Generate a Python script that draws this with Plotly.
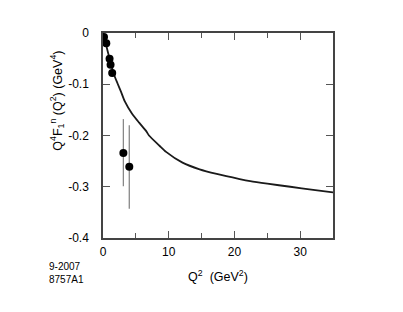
import plotly.graph_objects as go

# data points
pt_x = [0.15, 0.5, 1.0, 1.15, 1.4, 3.1, 4.0]
pt_y = [-0.008, -0.02, -0.05, -0.062, -0.078, -0.234, -0.261]
err_plus = [0.0, 0.0, 0.0, 0.0, 0.0, 0.066, 0.081]
err_minus = [0.0, 0.0, 0.0, 0.0, 0.0, 0.065, 0.082]

# theory curve
cx = [0, 0.5, 1.1, 1.7, 2.2, 2.75, 3.3, 4.4, 5.5, 6.6, 7.0, 8.6, 9.6, 12.1, 14.7, 17.3, 20.8, 22.4, 25.0, 28.5, 32.0, 35.0]
cy = [0, -0.025, -0.055, -0.082, -0.098, -0.115, -0.133, -0.157, -0.175, -0.192, -0.200, -0.220, -0.232, -0.253, -0.266, -0.275, -0.285, -0.289, -0.294, -0.300, -0.306, -0.311]

x_ticks = [0, 10, 20, 30]
y_ticks = [0, -0.1, -0.2, -0.3, -0.4]
y_ticktext = ["0", "-0.1", "-0.2", "-0.3", "-0.4"]

FONT = "Liberation Sans, Arial, sans-serif"

fig = go.Figure()
fig.add_trace(go.Scatter(x=cx, y=cy, mode="lines",
                         line=dict(color="#1a1a1a", width=1.8, shape="spline", smoothing=0.6),
                         showlegend=False, hoverinfo="skip"))
fig.add_trace(go.Scatter(x=pt_x, y=pt_y, mode="markers",
                         marker=dict(color="black", size=8),
                         error_y=dict(type="data", symmetric=False, array=err_plus, arrayminus=err_minus,
                                      color="#888888", thickness=1.3, width=0),
                         showlegend=False))

fig.update_layout(
    width=395, height=304,
    margin=dict(l=95, r=70, t=25, b=74),
    paper_bgcolor="white", plot_bgcolor="white",
    font=dict(family=FONT, size=12, color="black"),
    xaxis=dict(range=[0, 35], tickvals=x_ticks, ticks="inside", ticklen=7, tickcolor="#555",
               showline=True, linecolor="#444", linewidth=1.5, mirror="ticks",
               showgrid=False, zeroline=False,
               minor=dict(tickvals=[5, 15, 25, 35], ticks="inside", ticklen=5, tickcolor="#555"),
               tickfont=dict(size=12), ticklabelstandoff=2,
               title=dict(text="Q<sup>2</sup>  (GeV<sup>2</sup>)", font=dict(size=12.5), standoff=14)),
    yaxis=dict(range=[-0.4, 0], tickvals=y_ticks, ticktext=y_ticktext, ticks="inside", ticklen=7,
               tickcolor="#555",
               showline=True, linecolor="#444", linewidth=1.5, mirror="ticks",
               showgrid=False, zeroline=False,
               tickfont=dict(size=12), ticklabelstandoff=10),
    annotations=[
        dict(text="Q<sup>4</sup>F<sub>1</sub><sup>n</sup> (Q<sup>2</sup>) (GeV<sup>4</sup>)",
             xref="paper", yref="paper", x=-0.2, y=0.67, xanchor="center", yanchor="middle",
             textangle=-90, showarrow=False, font=dict(size=12.5)),
        dict(text="9-2007<br>8757A1", xref="paper", yref="paper", x=-0.243, y=-0.1,
             xanchor="left", yanchor="top", align="left", showarrow=False, font=dict(size=10)),
    ],
)

fig.write_html("out.html")
